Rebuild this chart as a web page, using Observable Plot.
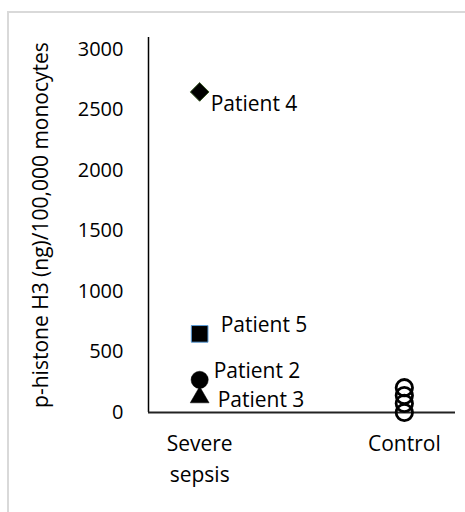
<!DOCTYPE html>
<html>
<head>
<meta charset="utf-8">
<script src="https://cdn.jsdelivr.net/npm/d3@7"></script>
<script src="https://cdn.jsdelivr.net/npm/@observablehq/plot@0.6"></script>
<style>
  html, body { margin: 0; padding: 0; background: #fff; overflow: hidden; }
  #wrap { position: relative; width: 465px; height: 512px; }
  #border { position: absolute; left: 7px; top: 11px; width: 480px; height: 520px;
            border: 2px solid #d9d9d9; box-sizing: border-box; pointer-events: none; }
</style>
</head>
<body>
<div id="wrap"><div id="border"></div></div>
<script>
// ---- data ----
const groups = ["Severe\nsepsis", "Control"];
const patientNames = ["Patient 4", "Patient 5", "Patient 2", "Patient 3"];
const patientValues = [2650, 650, 270, 125];
const controlValues = [205, 140, 75, 0];
const yTicks = [0, 500, 1000, 1500, 2000, 2500, 3000];
const yTitle = "p-histone H3 (ng)/100,000 monocytes";

const groupRows = groups.map((g, i) => ({x: i + 1, label: g}));
const patients = patientNames.map((n, i) => ({x: 1, y: patientValues[i], name: n}));
const controls = controlValues.map(v => ({x: 2, y: v}));

const font = "'Open Sans', sans-serif";

// per-patient marker styles and label offsets
const markerStyles = [
  {symbol: "diamond2", r: 8.4, fill: "#000", stroke: "#375623", strokeWidth: 1},
  {symbol: "square", r: 9.4, fill: "#000", stroke: "#5b9bd5", strokeWidth: 1},
  {symbol: "circle", r: 8.6, fill: "#000", stroke: "#000", strokeWidth: 0.5},
  {symbol: "triangle", r: 7, fill: "#000", stroke: "#000", strokeWidth: 0.5}
];
const labelOffsets = [[11, 12.5], [21, -9], [14, -9], [18, 3]];

const marks = [
  Plot.axisY({ticks: yTicks, tickFormat: d => String(d), tickSize: 0, tickPadding: 25, fontSize: 20, label: null, fill: "#000"}),
  Plot.ruleX([0.75], {stroke: "#000", strokeWidth: 1.5}),
  Plot.ruleY([0], {stroke: "#222", strokeWidth: 2}),
  Plot.text([yTitle], {frameAnchor: "left", textAnchor: "middle", rotate: -90, dx: -107, fontSize: 21, fill: "#000"}),
  Plot.text(groupRows, {x: "x", y: () => 0, text: "label", lineAnchor: "top", dy: 17, fontSize: 21, lineHeight: 1.45, fill: "#000"}),
  Plot.dot(controls, {x: "x", y: "y", r: 8.2, fill: "none", stroke: "#000", strokeWidth: 2.8})
];
patients.forEach((p, i) => {
  marks.push(Plot.dot([p], {x: "x", y: "y", ...markerStyles[i]}));
  marks.push(Plot.text([p], {x: "x", y: "y", text: "name", textAnchor: "start",
    dx: labelOffsets[i][0], dy: labelOffsets[i][1], fontSize: 21, fill: "#000"}));
});

const chart = Plot.plot({
  width: 465,
  height: 512,
  marginLeft: 148,
  marginRight: 10,
  marginTop: 37,
  marginBottom: 100,
  x: {domain: [0.75, 2.25], axis: null},
  y: {domain: [0, 3100], axis: null},
  style: {fontFamily: font, color: "#000", background: "transparent"},
  marks
});
document.getElementById("wrap").prepend(chart);
</script>
</body>
</html>
